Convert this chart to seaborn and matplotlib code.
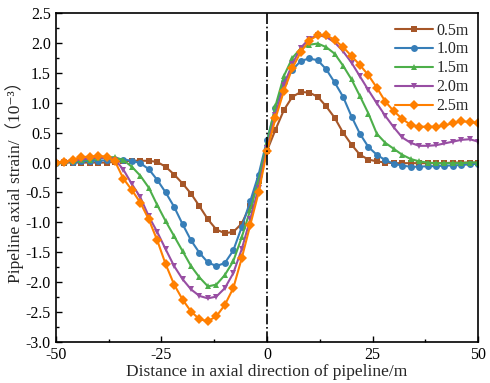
import numpy as np
import pandas as pd
import seaborn as sns
import matplotlib
matplotlib.use("Agg")
import matplotlib.pyplot as plt
from matplotlib.ticker import MultipleLocator

x = list(range(-50, 51, 2))

s05 = [0.0, 0.0, 0.0, 0.0, 0.0, 0.0, 0.0, 0.01, 0.02, 0.03, 0.03, 0.03, 0.01,
       -0.07, -0.2, -0.35, -0.52, -0.73, -0.95, -1.12, -1.18, -1.16, -1.02, -0.72, -0.3,
       0.2, 0.55, 0.88, 1.1, 1.18, 1.17, 1.1, 0.94, 0.75, 0.5, 0.3, 0.13, 0.05, 0.02,
       0.0, -0.01, -0.01, -0.01, -0.01, -0.01, -0.01, -0.01, 0.0, 0.0, 0.0, 0.0]
s10 = [0.0, 0.01, 0.01, 0.02, 0.03, 0.03, 0.04, 0.05, 0.05, 0.03, -0.01, -0.11, -0.29,
       -0.5, -0.74, -1.03, -1.3, -1.51, -1.67, -1.73, -1.68, -1.47, -1.08, -0.65, -0.2,
       0.38, 0.92, 1.35, 1.55, 1.7, 1.74, 1.71, 1.56, 1.34, 1.1, 0.77, 0.48, 0.26, 0.13,
       0.04, -0.02, -0.05, -0.07, -0.07, -0.06, -0.06, -0.05, -0.05, -0.04, -0.03, -0.02]
s15 = [0.0, 0.01, 0.02, 0.04, 0.05, 0.07, 0.09, 0.09, 0.04, -0.07, -0.22, -0.42, -0.71,
       -0.98, -1.23, -1.48, -1.73, -1.92, -2.07, -2.04, -1.88, -1.65, -1.25, -0.8, -0.3,
       0.33, 0.95, 1.45, 1.75, 1.91, 1.97, 1.99, 1.93, 1.82, 1.62, 1.39, 1.11, 0.82, 0.48,
       0.33, 0.23, 0.13, 0.06, 0.02, 0.0, -0.01, -0.01, -0.01, -0.01, 0.0, 0.0]
s20 = [0.0, 0.01, 0.03, 0.05, 0.07, 0.08, 0.08, 0.05, -0.12, -0.36, -0.58, -0.9, -1.16,
       -1.45, -1.73, -1.95, -2.12, -2.23, -2.27, -2.24, -2.1, -1.85, -1.45, -0.95, -0.42,
       0.25, 0.8, 1.3, 1.65, 1.92, 2.07, 2.13, 2.1, 2.01, 1.86, 1.67, 1.44, 1.21, 0.99,
       0.78, 0.59, 0.42, 0.33, 0.28, 0.28, 0.29, 0.32, 0.35, 0.38, 0.39, 0.35]
s25 = [0.0, 0.01, 0.05, 0.09, 0.1, 0.11, 0.1, 0.02, -0.27, -0.46, -0.67, -0.95, -1.3,
       -1.7, -2.04, -2.29, -2.49, -2.62, -2.65, -2.57, -2.38, -2.1, -1.6, -1.05, -0.5,
       0.2, 0.74, 1.2, 1.58, 1.85, 2.04, 2.13, 2.13, 2.05, 1.93, 1.78, 1.63, 1.46, 1.25,
       1.02, 0.86, 0.73, 0.63, 0.6, 0.6, 0.6, 0.62, 0.66, 0.69, 0.68, 0.66]

labels = ["0.5m", "1.0m", "1.5m", "2.0m", "2.5m"]
series = [s05, s10, s15, s20, s25]
colors = ["#A65628", "#377EB8", "#4DAF4A", "#984EA3", "#FF7F00"]
markers = ["s", "o", "^", "v", "D"]

df = pd.concat([pd.DataFrame({"x": x, "y": s, "depth": lab}) for s, lab in zip(series, labels)],
               ignore_index=True)

sns.set_style("ticks")
plt.rcParams["font.family"] = ["Liberation Serif", "DejaVu Serif", "Noto Sans CJK SC"]

fig = plt.figure(figsize=(4.9, 3.83), dpi=100)
ax = fig.add_axes([0.114, 0.107, 0.862, 0.859])

sns.lineplot(data=df, x="x", y="y", hue="depth", style="depth",
             palette=dict(zip(labels, colors)),
             markers=dict(zip(labels, markers)), dashes=False,
             markersize=5, markeredgewidth=0, linewidth=1.5, ax=ax)

ax.axvline(0, color="black", lw=1.2, ls="-.")

ax.set_xlim(-50, 50)
ax.set_ylim(-3.0, 2.5)
ax.xaxis.set_major_locator(MultipleLocator(25))
ax.xaxis.set_minor_locator(MultipleLocator(12.5))
ax.yaxis.set_major_locator(MultipleLocator(0.5))
ax.yaxis.set_minor_locator(MultipleLocator(0.25))
ax.set_xticklabels([f"{int(v)}" for v in ax.get_xticks()])
ax.tick_params(axis="both", which="both", direction="in", labelsize=11.5,
               top=False, right=False, colors="black")
ax.tick_params(which="major", length=4, width=1)
ax.tick_params(which="minor", length=2.5, width=1)
ax.set_yticks(np.arange(-3.0, 2.51, 0.5))
ax.set_yticklabels([f"{v:.1f}" for v in np.arange(-3.0, 2.51, 0.5)])
for sp in ax.spines.values():
    sp.set_linewidth(1.2)
    sp.set_color("black")

ax.set_xlabel("Distance in axial direction of pipeline/m", fontsize=12.5, labelpad=1)
ax.set_ylabel("Pipeline axial strain/（10⁻³）", fontsize=12.5, labelpad=1)

leg = ax.legend(loc="upper right", frameon=False, fontsize=11.5, handlelength=2.4,
                labelspacing=0.18, handletextpad=0.2, borderaxespad=0.2)

fig.savefig("out.png", dpi=100)
